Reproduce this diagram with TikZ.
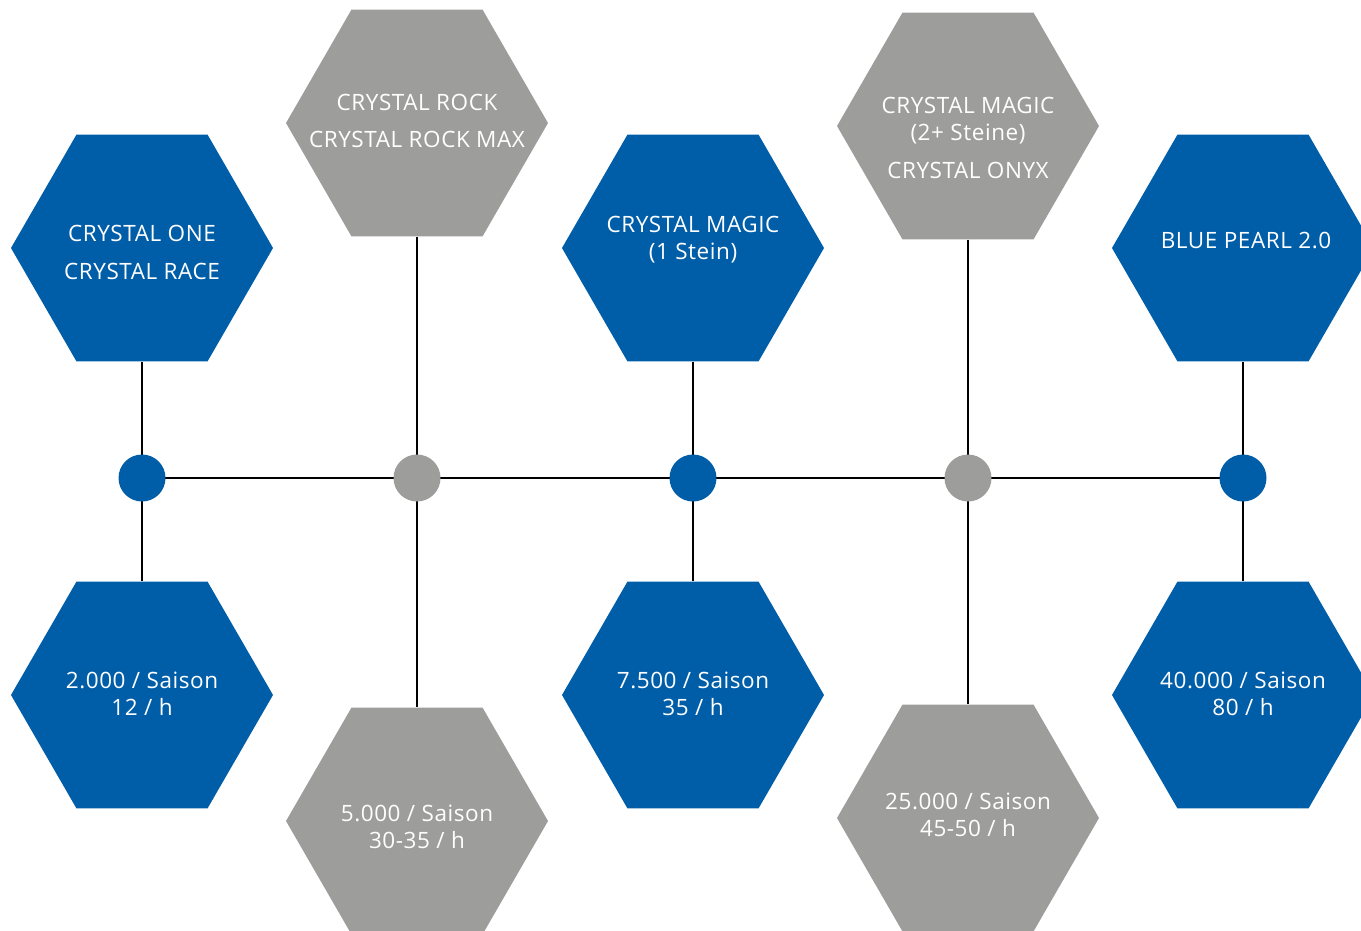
\documentclass[tikz,border=0pt]{standalone}
\usepackage{fontspec}
\setmainfont{Open Sans}[LetterSpace=2.5]
\usetikzlibrary{shapes.geometric,backgrounds}
\definecolor{hblue}{HTML}{005DA8}
\definecolor{hgray}{HTML}{9D9D9C}
\tikzset{
  hex/.style={regular polygon, regular polygon sides=6, minimum size=262pt, inner sep=0pt, draw=none},
  hexb/.style={hex, fill=hblue},
  hexg/.style={hex, fill=hgray},
  dot/.style={circle, minimum size=47pt, inner sep=0pt, draw=none},
  dotb/.style={dot, fill=hblue},
  dotg/.style={dot, fill=hgray},
  lbl/.style={text=white, font=\fontsize{22.5pt}{27pt}\selectfont, align=center, inner sep=0pt},
  conn/.style={line width=1.1pt, black}
}
\begin{document}
\begin{tikzpicture}[x=1pt,y=-1pt]
\useasboundingbox (0,0) rectangle (1361,930);
\clip (0,0) rectangle (1361,930);
% top hexagons
\node[hexb] (h1) at (142,248) {};
\node[hexg] (h2) at (417,123) {};
\node[hexb] (h3) at (693,248) {};
\node[hexg] (h4) at (968,126) {};
\node[hexb] (h5) at (1243,248) {};
% bottom hexagons
\node[hexb] (h6) at (142,695) {};
\node[hexg] (h7) at (417,821) {};
\node[hexb] (h8) at (693,695) {};
\node[hexg] (h9) at (968,818) {};
\node[hexb] (h10) at (1243,695) {};
% dots
\node[dotb] (c1) at (142,478) {};
\node[dotg] (c2) at (417,478) {};
\node[dotb] (c3) at (693,478) {};
\node[dotg] (c4) at (968,478) {};
\node[dotb] (c5) at (1243,478) {};
% labels
\node[lbl] (t1) at (142,252) {CRYSTAL ONE\\[11pt]CRYSTAL RACE};
\node[lbl] (t2) at (417,121) {CRYSTAL ROCK\\[10pt]CRYSTAL ROCK MAX};
\node[lbl] (t3) at (693,240) {CRYSTAL MAGIC\\(1 Stein)};
\node[lbl] (t4) at (968,138) {CRYSTAL MAGIC\\(2+ Steine)\\[11pt]CRYSTAL ONYX};
\node[lbl] (t5) at (1246,240) {BLUE PEARL 2.0};
\node[lbl] (t6) at (142,694) {2.000 / Saison\\12 / h};
\node[lbl] (t7) at (417,827) {5.000 / Saison\\30-35 / h};
\node[lbl] (t8) at (693,694) {7.500 / Saison\\35 / h};
\node[lbl] (t9) at (968,815) {25.000 / Saison\\45-50 / h};
\node[lbl] (t10) at (1243,694) {40.000 / Saison\\80 / h};
% connectors
\begin{scope}[on background layer]
\draw[conn] (c1.center) -- (c5.center);
\draw[conn] (h1.south) -- (h6.north);
\draw[conn] (h2.south) -- (h7.north);
\draw[conn] (h3.south) -- (h8.north);
\draw[conn] (h4.south) -- (h9.north);
\draw[conn] (h5.south) -- (h10.north);
\end{scope}
\end{tikzpicture}
\end{document}
